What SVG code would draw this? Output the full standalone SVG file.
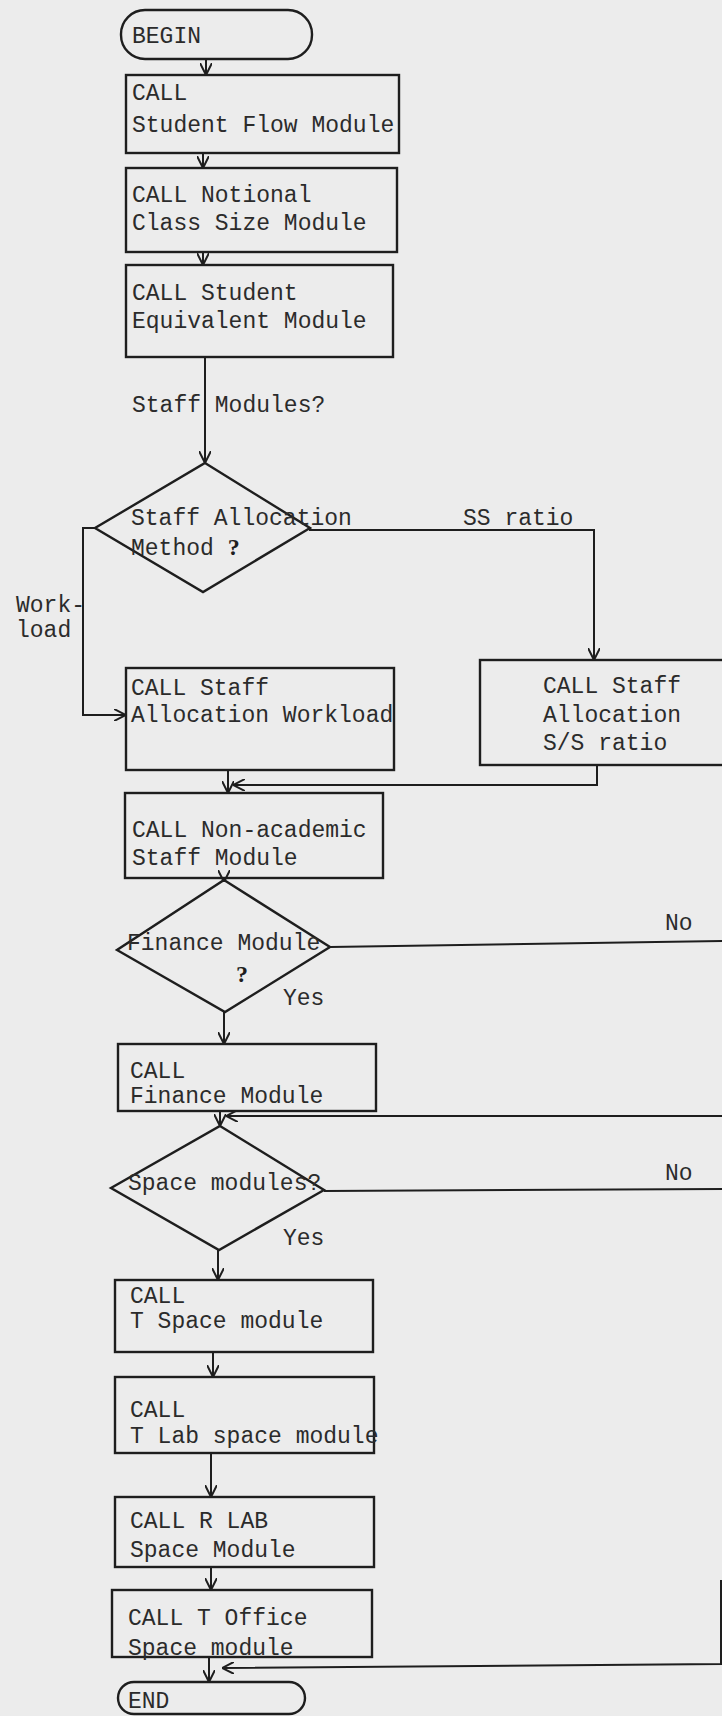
<svg xmlns="http://www.w3.org/2000/svg" width="722" height="1716" viewBox="0 0 722 1716">
<defs>
<style>
.bg{fill:#ececec}
.box{fill:none;stroke:#1e1e1e;stroke-width:2.4}
.ln{fill:none;stroke:#1e1e1e;stroke-width:2}
.t{font-family:"Liberation Mono","DejaVu Sans Mono",monospace;font-size:23px;fill:#2b2b2b}
.q{font-family:"Liberation Serif",serif;font-size:24px;font-weight:bold;fill:#1e1e1e}
</style>
<marker id="arr" viewBox="0 0 12 12" refX="12" refY="6" markerWidth="12" markerHeight="12" orient="auto" markerUnits="userSpaceOnUse">
<path d="M0,0 L12,6 L0,12" fill="none" stroke="#1e1e1e" stroke-width="2"/>
</marker>
</defs>
<rect class="bg" x="0" y="0" width="722" height="1716"/>

<g id="connectors">
<line class="ln" x1="206" y1="59" x2="206" y2="75" marker-end="url(#arr)"/>
<line class="ln" x1="203" y1="153" x2="203" y2="168" marker-end="url(#arr)"/>
<line class="ln" x1="203" y1="252" x2="203" y2="265" marker-end="url(#arr)"/>
<line class="ln" x1="205" y1="357" x2="205" y2="463" marker-end="url(#arr)"/>
<polyline class="ln" points="95,528 83,528 83,715 126,715" marker-end="url(#arr)"/>
<polyline class="ln" points="309,530 594,530 594,660" marker-end="url(#arr)"/>
<line class="ln" x1="228" y1="770" x2="228" y2="793" marker-end="url(#arr)"/>
<polyline class="ln" points="597,765 597,785 233,785" marker-end="url(#arr)"/>
<line class="ln" x1="224" y1="878" x2="224" y2="882" marker-end="url(#arr)"/>
<line class="ln" x1="224" y1="1012" x2="224" y2="1044" marker-end="url(#arr)"/>
<line class="ln" x1="330" y1="947" x2="722" y2="941"/>
<line class="ln" x1="722" y1="1116" x2="226" y2="1116" marker-end="url(#arr)"/>
<line class="ln" x1="220" y1="1111" x2="220" y2="1126" marker-end="url(#arr)"/>
<line class="ln" x1="324" y1="1191" x2="722" y2="1189"/>
<line class="ln" x1="218" y1="1250" x2="218" y2="1280" marker-end="url(#arr)"/>
<line class="ln" x1="213" y1="1352" x2="213" y2="1377" marker-end="url(#arr)"/>
<line class="ln" x1="211" y1="1453" x2="211" y2="1497" marker-end="url(#arr)"/>
<line class="ln" x1="211" y1="1567" x2="211" y2="1590" marker-end="url(#arr)"/>
<line class="ln" x1="209" y1="1657" x2="209" y2="1682" marker-end="url(#arr)"/>
<polyline class="ln" points="721,1580 721,1664 222,1668" marker-end="url(#arr)"/>
<text class="t" x="132" y="412">Staff Modules?</text>
<text class="t" x="463" y="525">SS ratio</text>
<text class="t" x="16" y="612">Work-</text>
<text class="t" x="16" y="637">load</text>
<text class="t" x="665" y="930">No</text>
<text class="t" x="283" y="1005">Yes</text>
<text class="t" x="665" y="1180">No</text>
<text class="t" x="283" y="1245">Yes</text>
</g>

<g id="begin">
<rect class="box" x="121" y="10" width="191" height="49" rx="24"/>
<text class="t" x="132" y="43">BEGIN</text>
</g>
<g id="student-flow">
<rect class="box" x="126" y="75" width="273" height="78"/>
<text class="t" x="132" y="100">CALL</text>
<text class="t" x="132" y="132">Student Flow Module</text>
</g>
<g id="notional-class-size">
<rect class="box" x="126" y="168" width="271" height="84"/>
<text class="t" x="132" y="202">CALL  Notional</text>
<text class="t" x="132" y="230">Class Size Module</text>
</g>
<g id="student-equivalent">
<rect class="box" x="126" y="265" width="267" height="92"/>
<text class="t" x="132" y="300">CALL  Student</text>
<text class="t" x="132" y="328">Equivalent Module</text>
</g>
<g id="staff-allocation-method">
<polygon class="box" points="205,463 310,528 203,592 95,528"/>
<text class="t" x="131" y="525">Staff Allocation</text>
<text class="t" x="131" y="555">Method <tspan class="q">?</tspan></text>
</g>
<g id="staff-allocation-workload">
<rect class="box" x="126" y="668" width="268" height="102"/>
<text class="t" x="131" y="695">CALL  Staff</text>
<text class="t" x="131" y="722">Allocation Workload</text>
</g>
<g id="staff-allocation-ss">
<rect class="box" x="480" y="660" width="250" height="105"/>
<text class="t" x="543" y="693">CALL Staff</text>
<text class="t" x="543" y="722">Allocation</text>
<text class="t" x="543" y="750">S/S ratio</text>
</g>
<g id="non-academic">
<rect class="box" x="125" y="793" width="258" height="85"/>
<text class="t" x="132" y="837">CALL  Non-academic</text>
<text class="t" x="132" y="865">Staff Module</text>
</g>
<g id="finance-decision">
<polygon class="box" points="224,880 330,947 225,1012 117,950"/>
<text class="t" x="127" y="950">Finance Module</text>
<text class="q" x="236" y="982">?</text>
</g>
<g id="finance-module">
<rect class="box" x="118" y="1044" width="258" height="67"/>
<text class="t" x="130" y="1078">CALL</text>
<text class="t" x="130" y="1103">Finance Module</text>
</g>
<g id="space-decision">
<polygon class="box" points="220,1126 324,1190 219,1250 111,1188"/>
<text class="t" x="128" y="1190">Space modules?</text>
</g>
<g id="t-space">
<rect class="box" x="115" y="1280" width="258" height="72"/>
<text class="t" x="130" y="1303">CALL</text>
<text class="t" x="130" y="1328">T Space module</text>
</g>
<g id="t-lab-space">
<rect class="box" x="115" y="1377" width="259" height="76"/>
<text class="t" x="130" y="1417">CALL</text>
<text class="t" x="130" y="1443">T Lab space module</text>
</g>
<g id="r-lab-space">
<rect class="box" x="115" y="1497" width="259" height="70"/>
<text class="t" x="130" y="1528">CALL  R LAB</text>
<text class="t" x="130" y="1557">Space Module</text>
</g>
<g id="t-office-space">
<rect class="box" x="112" y="1590" width="260" height="67"/>
<text class="t" x="128" y="1625">CALL  T Office</text>
<text class="t" x="128" y="1655">Space module</text>
</g>
<g id="end">
<rect class="box" x="118" y="1682" width="187" height="32" rx="16"/>
<text class="t" x="128" y="1708">END</text>
</g>
</svg>
